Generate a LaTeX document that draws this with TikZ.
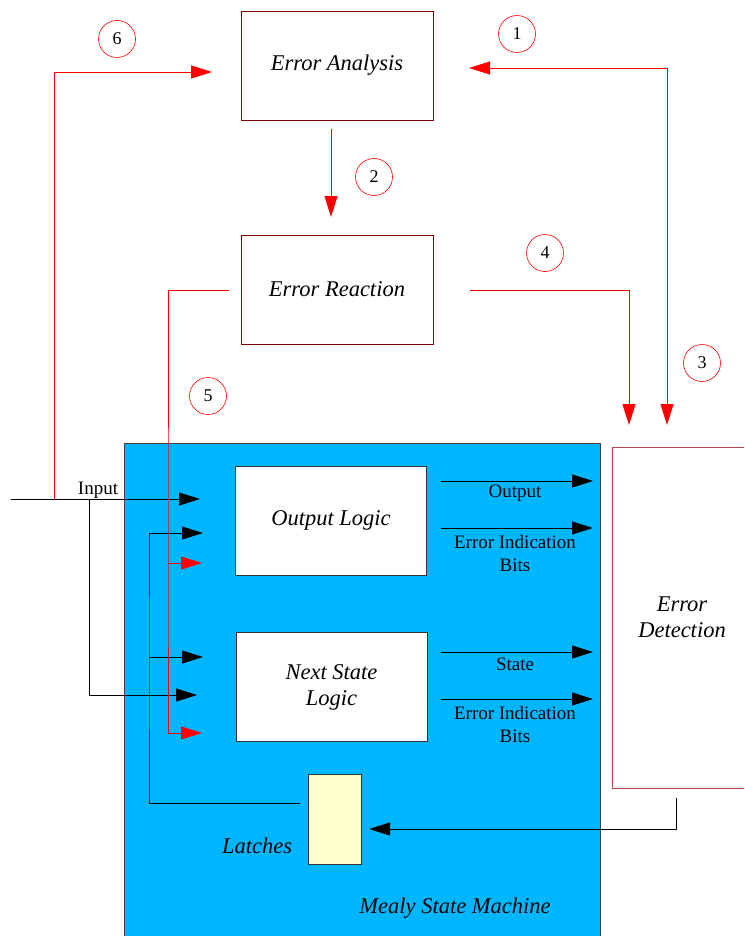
\documentclass[tikz,border=0pt]{standalone}
\usepackage{fontspec}
\setmainfont{Liberation Serif}
\usetikzlibrary{arrows.meta}

\definecolor{boxred}{RGB}{128,0,0}
\definecolor{detred}{RGB}{180,70,70}
\definecolor{mealyblue}{RGB}{0,183,255}
\definecolor{latchyellow}{RGB}{255,255,204}

\tikzset{
  errbox/.style={draw=boxred, line width=0.9pt, minimum width=192pt, minimum height=109pt,
    inner sep=0pt, align=center, font=\fontsize{22.5}{26}\selectfont\itshape},
  logicbox/.style={draw=black!80, fill=white, line width=0.9pt, minimum width=191pt,
    minimum height=109pt, inner sep=0pt, align=center, font=\fontsize{22.5}{26}\selectfont\itshape},
  num/.style={circle, draw=red, line width=0.6pt, minimum size=37pt, inner sep=0pt,
    font=\fontsize{18}{18}\selectfont},
  sig/.style={align=center, inner sep=0pt, font=\fontsize{19}{23}\selectfont},
  redarr/.style={red, line width=0.9pt, -{Triangle[length=21pt,width=13pt]}},
  blkarr/.style={black, line width=0.9pt, -{Triangle[length=21pt,width=13pt]}}
}

\begin{document}
\begin{tikzpicture}[x=1pt,y=-1pt]
  \useasboundingbox (0,0) rectangle (744,936);
  \begin{scope}
    \clip (0,0) rectangle (744,936);
    % Mealy state machine
    \fill[mealyblue] (124,443) rectangle (600,960);
    \draw[black!75, line width=1pt] (124,960) -- (124,443) -- (600,443) -- (600,960);
    % error detection
    \node[draw=detred, line width=0.9pt, minimum width=140pt, minimum height=341pt, inner sep=0pt,
      align=center, font=\fontsize{22.5}{26}\selectfont\itshape] (det) at (682,617.5) {Error\\Detection};
  \end{scope}

  \node[errbox] (ana) at (337,65.5) {Error Analysis};
  \node[errbox] (rea) at (337,289.5) {Error Reaction};
  \node[logicbox] (outl) at (331,520.5) {Output Logic};
  \node[logicbox] (nsl) at (331.5,687) {Next State\\Logic};
  \node[draw=black!80, fill=latchyellow, line width=0.9pt, minimum width=53pt, minimum height=90pt] (latch) at (334.5,819) {};

  \node[font=\fontsize{22.5}{26}\selectfont\itshape] (latchlbl) at (257,846) {Latches};
  \node[font=\fontsize{22.5}{26}\selectfont\itshape] (mealy) at (455,908) {Mealy State Machine};

  % numbered steps
  \node[num] (n1) at (517,34) {1};
  \node[num] (n2) at (374,177) {2};
  \node[num] (n3) at (702,363) {3};
  \node[num] (n4) at (545,253) {4};
  \node[num] (n5) at (208,396) {5};
  \node[num] (n6) at (117,39) {6};

  % connector points
  \coordinate (inL) at (11,499);
  \coordinate (inA) at (54,499);
  \coordinate (inB) at (89,499);
  \coordinate (inT) at (200,499);
  \coordinate (inT2) at (197,695);
  \coordinate (t6) at (212,72);
  \coordinate (t1a) at (469,68);
  \coordinate (c1) at (667,68);
  \coordinate (t1b) at (667,425);
  \coordinate (s2) at (331,129);
  \coordinate (t2) at (331,217);
  \coordinate (s4) at (470,290);
  \coordinate (t4) at (629,425);
  \coordinate (s5) at (229,290);
  \coordinate (t5a) at (202,563);
  \coordinate (t5b) at (202,733);
  \coordinate (sfb) at (300,803);
  \coordinate (tfa) at (203,533);
  \coordinate (tfb) at (203,657);
  \coordinate (sdl) at (676,798);
  \coordinate (tdl) at (369,829);

  % input
  \draw[blkarr] (inL) -- (inT);
  \node[sig, anchor=base] (inlbl) at (98,494) {Input};
  \draw[blkarr] (inB) |- (inT2);

  % error handling loop
  \draw[redarr] (inA) |- (t6);
  \draw[redarr, {Triangle[length=21pt,width=13pt]}-{Triangle[length=21pt,width=13pt]}] (t1a) -- (c1) -- (t1b);
  \draw[redarr] (s2) -- (t2);
  \draw[redarr] (s4) -| (t4);
  \draw[redarr] (s5) -| (168,563) |- (t5b);
  \draw[redarr] (168,563) -- (t5a);

  % latch feedback
  \draw[blkarr] (sfb) -| (149,657) |- (tfa);
  \draw[blkarr] (149,657) -- (tfb);
  \draw[blkarr] (sdl) |- (tdl);

  % outputs
  \foreach \yy in {481, 528, 652, 699}
    \draw[blkarr] (441,\yy) -- (593,\yy);
  \node[sig] (lout) at (515,493) {Output};
  \node[sig] (leib1) at (515,553) {Error Indication\\Bits};
  \node[sig] (lstate) at (515,664) {State};
  \node[sig] (leib2) at (515,724) {Error Indication\\Bits};
\end{tikzpicture}
\end{document}
